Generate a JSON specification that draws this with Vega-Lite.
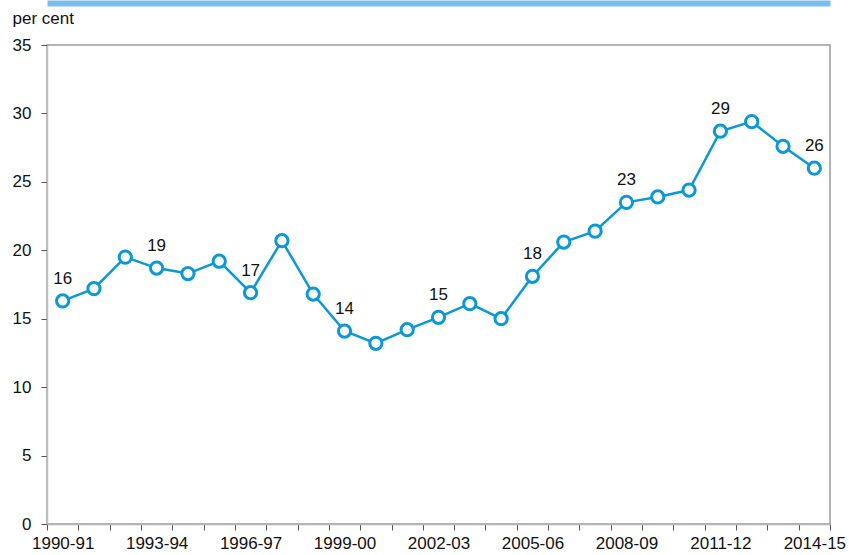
{
  "$schema": "https://vega.github.io/schema/vega-lite/v6.json",
  "width": 783,
  "height": 479,
  "autosize": "none",
  "padding": {"left": 47, "top": 45, "right": 19, "bottom": 31},
  "background": "white",
  "config": {
    "font": "Liberation Sans",
    "view": {"stroke": "#9a9a9a", "strokeWidth": 1.5}
  },
  "data": {
    "values": [
      {"year": "1990-91", "value": 16.3, "label": "16"},
      {"year": "1991-92", "value": 17.2, "label": ""},
      {"year": "1992-93", "value": 19.5, "label": ""},
      {"year": "1993-94", "value": 18.7, "label": "19"},
      {"year": "1994-95", "value": 18.3, "label": ""},
      {"year": "1995-96", "value": 19.2, "label": ""},
      {"year": "1996-97", "value": 16.9, "label": "17"},
      {"year": "1997-98", "value": 20.7, "label": ""},
      {"year": "1998-99", "value": 16.8, "label": ""},
      {"year": "1999-00", "value": 14.1, "label": "14"},
      {"year": "2000-01", "value": 13.2, "label": ""},
      {"year": "2001-02", "value": 14.2, "label": ""},
      {"year": "2002-03", "value": 15.1, "label": "15"},
      {"year": "2003-04", "value": 16.1, "label": ""},
      {"year": "2004-05", "value": 15.0, "label": ""},
      {"year": "2005-06", "value": 18.1, "label": "18"},
      {"year": "2006-07", "value": 20.6, "label": ""},
      {"year": "2007-08", "value": 21.4, "label": ""},
      {"year": "2008-09", "value": 23.5, "label": "23"},
      {"year": "2009-10", "value": 23.9, "label": ""},
      {"year": "2010-11", "value": 24.4, "label": ""},
      {"year": "2011-12", "value": 28.7, "label": "29"},
      {"year": "2012-13", "value": 29.4, "label": ""},
      {"year": "2013-14", "value": 27.6, "label": ""},
      {"year": "2014-15", "value": 26.0, "label": "26"}
    ]
  },
  "resolve": {"axis": {"x": "independent"}},
  "layer": [
    {
      "mark": {"type": "line", "color": "#0b98d6", "strokeWidth": 2.5},
      "encoding": {
        "x": {
          "field": "year", "type": "ordinal", "sort": null,
          "scale": {"type": "band", "paddingInner": 0, "paddingOuter": 0},
          "axis": {
            "title": null,
            "orient": "bottom",
            "tickBand": "extent",
            "labelExpr": "indexof(['1990-91','1993-94','1996-97','1999-00','2002-03','2005-06','2008-09','2011-12','2014-15'], datum.value) >= 0 ? datum.value : ''",
            "labelAngle": 0,
            "labelOverlap": false,
            "labelFontSize": 17,
            "labelColor": "#111111",
            "labelPadding": 5,
            "tickSize": 6,
            "tickColor": "#555555",
            "domainColor": "#b5b5b5",
            "domainWidth": 1.5
          }
        },
        "y": {
          "field": "value", "type": "quantitative",
          "scale": {"domain": [0, 35], "nice": false},
          "axis": {
            "values": [0, 5, 10, 15, 20, 25, 30, 35],
            "grid": false,
            "title": "per cent",
            "titleAngle": 0,
            "titleX": -35,
            "titleY": -27,
            "titleAlign": "left",
            "titleBaseline": "middle",
            "titleFontSize": 17,
            "titleFontWeight": "normal",
            "titleColor": "#111111",
            "labelFontSize": 17,
            "labelColor": "#111111",
            "labelPadding": 10,
            "tickSize": 6,
            "tickColor": "#555555",
            "domainColor": "#c0c0c0",
            "domainWidth": 1.5
          }
        }
      }
    },
    {
      "mark": {"type": "point", "shape": "circle", "filled": true, "fill": "white", "stroke": "#0b98d6", "strokeWidth": 3, "size": 150, "opacity": 1},
      "encoding": {
        "x": {"field": "year", "type": "ordinal", "sort": null, "axis": null},
        "y": {"field": "value", "type": "quantitative"}
      }
    },
    {
      "mark": {"type": "text", "dy": -22, "fontSize": 17, "color": "#111111", "baseline": "middle"},
      "encoding": {
        "x": {
          "field": "year", "type": "ordinal", "sort": null,
          "axis": {
            "orient": "top",
            "offset": 42,
            "domainWidth": 6,
            "domainColor": "#7cbee8",
            "ticks": false,
            "labels": false,
            "title": null
          }
        },
        "y": {"field": "value", "type": "quantitative"},
        "text": {"field": "label"}
      }
    }
  ]
}
